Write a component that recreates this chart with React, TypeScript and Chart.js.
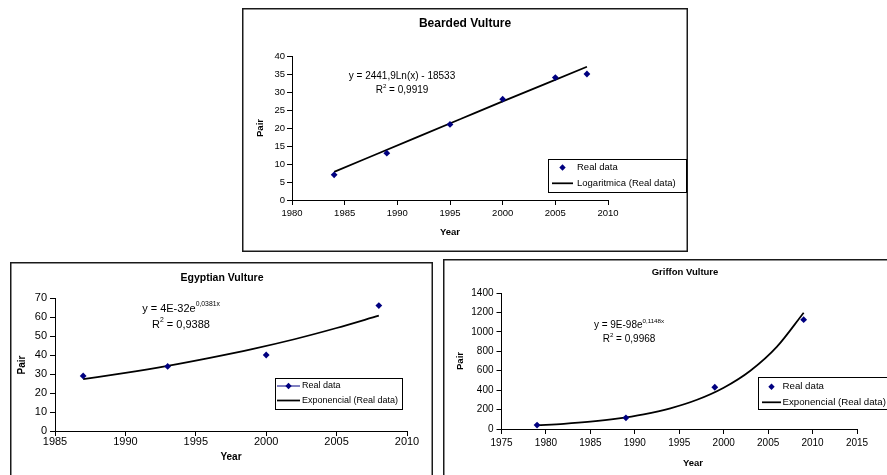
import React, { useEffect, useRef } from "react";
import { Chart, registerables } from "chart.js";

Chart.register(...registerables);
Chart.defaults.font.family = "'Liberation Sans', Arial, sans-serif";

// ---------- Data ----------
const legendPointLabel = "Real data";
const logTrendLabel = "Logaritmica (Real data)";
const expTrendLabel = "Exponencial (Real data)";
const xAxisTitle = "Year";
const yAxisTitle = "Pair";

// Bearded Vulture
const beardedYears = [1984, 1989, 1995, 2000, 2005, 2008];
const beardedPairs = [7, 13, 21, 28, 34, 35];
const beardedTrendYears = [1984, 1988, 1992, 1996, 2000, 2004, 2008];
const beardedTrendPairs = [7.8, 12.7, 17.6, 22.5, 27.4, 32.2, 37.0];
const beardedXTicks = [1980, 1985, 1990, 1995, 2000, 2005, 2010];
const beardedYTicks = [0, 5, 10, 15, 20, 25, 30, 35, 40];

// Egyptian Vulture
const egyptianYears = [1987, 1993, 2000, 2008];
const egyptianPairs = [29, 34, 40, 66];
const egyptianTrendYears = [1987, 1990, 1993, 1996, 1999, 2002, 2005, 2008];
const egyptianTrendPairs = [27.3, 30.6, 34.3, 38.5, 43.1, 48.3, 54.2, 60.7];
const egyptianXTicks = [1985, 1990, 1995, 2000, 2005, 2010];
const egyptianYTicks = [0, 10, 20, 30, 40, 50, 60, 70];

// Griffon Vulture
const griffonYears = [1979, 1989, 1999, 2009];
const griffonPairs = [40, 115, 430, 1125];
const griffonTrendYears = [1979, 1982, 1985, 1988, 1991, 1994, 1997, 2000, 2003, 2006, 2009];
const griffonTrendPairs = [38, 54, 76, 107, 151, 213, 301, 425, 600, 848, 1197];
const griffonXTicks = [1975, 1980, 1985, 1990, 1995, 2000, 2005, 2010, 2015];
const griffonYTicks = [0, 200, 400, 600, 800, 1000, 1200, 1400];

const NAVY = "#000080";

type Part = { t: string; sup?: boolean };
type LegendItem = { kind: "marker" | "lineMarker" | "line"; label: string; y: number; s0: number; s1: number; tx: number };

interface Spec {
  title: string;
  panel: { x: number; y: number; w: number; h: number };
  plot: { l: number; r: number; t: number; b: number };
  xTicks: number[];
  yTicks: number[];
  tickFont: number;
  xPad: number;
  yPad: number;
  pointX: number[];
  pointY: number[];
  trendX: number[];
  trendY: number[];
  trendLabel: string;
  titlePos: [number, number];
  titleFont: number;
  xTitlePos: [number, number];
  yTitlePos: [number, number];
  axisFont: number;
  eq: { parts: Part[]; x: number; y: number }[];
  eqFont: number;
  legend: { x: number; y: number; w: number; h: number; font: number; items: LegendItem[] };
}

const specs: Spec[] = [
  {
    title: "Bearded Vulture",
    panel: { x: 242, y: 8, w: 446, h: 244 },
    plot: { l: 292, r: 608, t: 56, b: 200 },
    xTicks: beardedXTicks,
    yTicks: beardedYTicks,
    tickFont: 9.5,
    xPad: 4,
    yPad: 2,
    pointX: beardedYears,
    pointY: beardedPairs,
    trendX: beardedTrendYears,
    trendY: beardedTrendPairs,
    trendLabel: logTrendLabel,
    titlePos: [465, 24],
    titleFont: 12,
    xTitlePos: [450, 232],
    yTitlePos: [260, 128],
    axisFont: 9.5,
    eq: [
      { parts: [{ t: "y = 2441,9Ln(x) - 18533" }], x: 402, y: 76 },
      { parts: [{ t: "R" }, { t: "2", sup: true }, { t: " = 0,9919" }], x: 402, y: 90 },
    ],
    eqFont: 10,
    legend: {
      x: 548, y: 159, w: 138, h: 33, font: 9.5,
      items: [
        { kind: "marker", label: legendPointLabel, y: 167.5, s0: 552, s1: 573, tx: 577 },
        { kind: "line", label: logTrendLabel, y: 183.3, s0: 552, s1: 573, tx: 577 },
      ],
    },
  },
  {
    title: "Egyptian Vulture",
    panel: { x: 10, y: 262, w: 423, h: 230 },
    plot: { l: 55, r: 407, t: 298, b: 431 },
    xTicks: egyptianXTicks,
    yTicks: egyptianYTicks,
    tickFont: 11,
    xPad: 0,
    yPad: 3,
    pointX: egyptianYears,
    pointY: egyptianPairs,
    trendX: egyptianTrendYears,
    trendY: egyptianTrendPairs,
    trendLabel: expTrendLabel,
    titlePos: [222, 278],
    titleFont: 10.5,
    xTitlePos: [231, 457],
    yTitlePos: [22, 365],
    axisFont: 10,
    eq: [
      { parts: [{ t: "y = 4E-32e" }, { t: "0,0381x", sup: true }], x: 181, y: 309 },
      { parts: [{ t: "R" }, { t: "2", sup: true }, { t: " = 0,9388" }], x: 181, y: 325 },
    ],
    eqFont: 11,
    legend: {
      x: 275, y: 378, w: 127, h: 31, font: 9,
      items: [
        { kind: "lineMarker", label: legendPointLabel, y: 386, s0: 277, s1: 300, tx: 302 },
        { kind: "line", label: expTrendLabel, y: 400.5, s0: 277, s1: 300, tx: 302 },
      ],
    },
  },
  {
    title: "Griffon Vulture",
    panel: { x: 443, y: 259, w: 485, h: 230 },
    plot: { l: 501.5, r: 857, t: 293, b: 429 },
    xTicks: griffonXTicks,
    yTicks: griffonYTicks,
    tickFont: 10,
    xPad: 4,
    yPad: 3,
    pointX: griffonYears,
    pointY: griffonPairs,
    trendX: griffonTrendYears,
    trendY: griffonTrendPairs,
    trendLabel: expTrendLabel,
    titlePos: [685, 272],
    titleFont: 9.5,
    xTitlePos: [693, 463],
    yTitlePos: [460, 361],
    axisFont: 9.5,
    eq: [
      { parts: [{ t: "y = 9E-98e" }, { t: "0,1148x", sup: true }], x: 629, y: 325 },
      { parts: [{ t: "R" }, { t: "2", sup: true }, { t: " = 0,9968" }], x: 629, y: 339.5 },
    ],
    eqFont: 10,
    legend: {
      x: 757.5, y: 377, w: 150, h: 32, font: 9.7,
      items: [
        { kind: "marker", label: legendPointLabel, y: 386.7, s0: 762, s1: 781, tx: 782.5 },
        { kind: "line", label: expTrendLabel, y: 402.3, s0: 762, s1: 781, tx: 782.5 },
      ],
    },
  },
];

const FAMILY = "'Liberation Sans', Arial, sans-serif";

function drawParts(ctx: CanvasRenderingContext2D, parts: Part[], cx: number, cy: number, size: number) {
  const supSize = size * 0.62;
  let total = 0;
  const widths = parts.map((p) => {
    ctx.font = `${p.sup ? supSize : size}px ${FAMILY}`;
    const w = ctx.measureText(p.t).width;
    total += w;
    return w;
  });
  let x = cx - total / 2;
  ctx.textAlign = "left";
  ctx.textBaseline = "middle";
  parts.forEach((p, i) => {
    ctx.font = `${p.sup ? supSize : size}px ${FAMILY}`;
    ctx.fillText(p.t, x, p.sup ? cy - size * 0.42 : cy);
    x += widths[i];
  });
}

function diamond(ctx: CanvasRenderingContext2D, x: number, y: number, r: number) {
  ctx.beginPath();
  ctx.moveTo(x, y - r);
  ctx.lineTo(x + r, y);
  ctx.lineTo(x, y + r);
  ctx.lineTo(x - r, y);
  ctx.closePath();
  ctx.fill();
}

function VultureChart({ spec }: { spec: Spec }) {
  const ref = useRef<HTMLCanvasElement>(null);
  const { panel } = spec;

  useEffect(() => {
    const canvas = ref.current;
    if (!canvas) return;
    const { plot } = spec;
    const yW = 40;
    const xH = 30;
    const ox = panel.x;
    const oy = panel.y;

    const overlay = {
      id: "overlay",
      afterDraw(chart: any) {
        const ctx: CanvasRenderingContext2D = chart.ctx;
        ctx.save();
        // panel border
        ctx.strokeStyle = "#1a1a1a";
        ctx.lineWidth = 1.5;
        ctx.strokeRect(0.75, 0.75, panel.w - 1.5, panel.h - 1.5);

        ctx.fillStyle = "#000";
        // title
        ctx.font = `bold ${spec.titleFont}px ${FAMILY}`;
        ctx.textAlign = "center";
        ctx.textBaseline = "middle";
        ctx.fillText(spec.title, spec.titlePos[0] - ox, spec.titlePos[1] - oy);

        // axis titles
        ctx.font = `bold ${spec.axisFont}px ${FAMILY}`;
        ctx.fillText(xAxisTitle, spec.xTitlePos[0] - ox, spec.xTitlePos[1] - oy);
        ctx.save();
        ctx.translate(spec.yTitlePos[0] - ox, spec.yTitlePos[1] - oy);
        ctx.rotate(-Math.PI / 2);
        ctx.fillText(yAxisTitle, 0, 0);
        ctx.restore();

        // equation
        spec.eq.forEach((line) => drawParts(ctx, line.parts, line.x - ox, line.y - oy, spec.eqFont));

        // legend
        const lg = spec.legend;
        ctx.fillStyle = "#fff";
        ctx.fillRect(lg.x - ox, lg.y - oy, lg.w, lg.h);
        ctx.strokeStyle = "#000";
        ctx.lineWidth = 1;
        ctx.strokeRect(Math.round(lg.x - ox) + 0.5, Math.round(lg.y - oy) + 0.5, lg.w, lg.h);
        lg.items.forEach((it) => {
          const y = it.y - oy;
          if (it.kind === "line" || it.kind === "lineMarker") {
            ctx.strokeStyle = it.kind === "line" ? "#000" : NAVY;
            ctx.lineWidth = it.kind === "line" ? 1.75 : 1;
            ctx.beginPath();
            ctx.moveTo(it.s0 - ox, y);
            ctx.lineTo(it.s1 - ox, y);
            ctx.stroke();
          }
          if (it.kind === "marker" || it.kind === "lineMarker") {
            ctx.fillStyle = NAVY;
            diamond(ctx, (it.s0 + it.s1) / 2 - ox, y, 3.2);
          }
          ctx.fillStyle = "#000";
          ctx.font = `${lg.font}px ${FAMILY}`;
          ctx.textAlign = "left";
          ctx.textBaseline = "middle";
          ctx.fillText(it.label, it.tx - ox, y);
        });
        ctx.restore();
      },
    };

    const axisCommon = (ticksArr: number[], pad: number) => ({
      type: "linear" as const,
      min: ticksArr[0],
      max: ticksArr[ticksArr.length - 1],
      afterBuildTicks: (s: any) => {
        s.ticks = ticksArr.map((v) => ({ value: v }));
      },
      ticks: {
        font: { size: spec.tickFont, lineHeight: 1 },
        color: "#000",
        padding: pad,
        maxRotation: 0,
        autoSkip: false,
        callback: (v: any) => String(v),
      },
      grid: { drawOnChartArea: false, drawTicks: true, tickLength: 5, color: "#000", lineWidth: 1 },
      border: { display: true, color: "#000", width: 1 },
    });

    const chart = new Chart(canvas, {
      type: "scatter",
      data: {
        datasets: [
          {
            label: legendPointLabel,
            data: spec.pointX.map((x, i) => ({ x, y: spec.pointY[i] })),
            showLine: false,
            pointStyle: "rectRot",
            pointRadius: 3.4,
            backgroundColor: NAVY,
            borderColor: NAVY,
            borderWidth: 0,
            order: 0,
          },
          {
            label: spec.trendLabel,
            data: spec.trendX.map((x, i) => ({ x, y: spec.trendY[i] })),
            showLine: true,
            borderColor: "#000",
            borderWidth: 1.75,
            pointRadius: 0,
            cubicInterpolationMode: "monotone",
            fill: false,
            order: 1,
          },
        ] as any,
      },
      options: {
        responsive: false,
        maintainAspectRatio: false,
        animation: false,
        events: [],
        layout: {
          padding: {
            left: plot.l - ox - yW,
            top: plot.t - oy,
            right: ox + panel.w - plot.r,
            bottom: oy + panel.h - plot.b - xH,
          },
        },
        plugins: {
          legend: { display: false },
          title: { display: false },
          tooltip: { enabled: false },
        },
        scales: {
          x: {
            ...axisCommon(spec.xTicks, spec.xPad),
            position: "bottom",
            afterFit: (s: any) => {
              s.height = xH;
            },
          },
          y: {
            ...axisCommon(spec.yTicks, spec.yPad),
            position: "left",
            afterFit: (s: any) => {
              s.width = yW;
            },
          },
        } as any,
      },
      plugins: [overlay],
    });
    return () => chart.destroy();
  }, [spec]);

  return (
    <canvas
      ref={ref}
      width={panel.w}
      height={panel.h}
      style={{ position: "absolute", left: panel.x, top: panel.y, width: panel.w, height: panel.h }}
    />
  );
}

export default function App() {
  return (
    <div
      style={{
        position: "fixed",
        left: 0,
        top: 0,
        width: 887,
        height: 475,
        overflow: "hidden",
        background: "#fff",
      }}
    >
      {specs.map((s) => (
        <VultureChart key={s.title} spec={s} />
      ))}
    </div>
  );
}
